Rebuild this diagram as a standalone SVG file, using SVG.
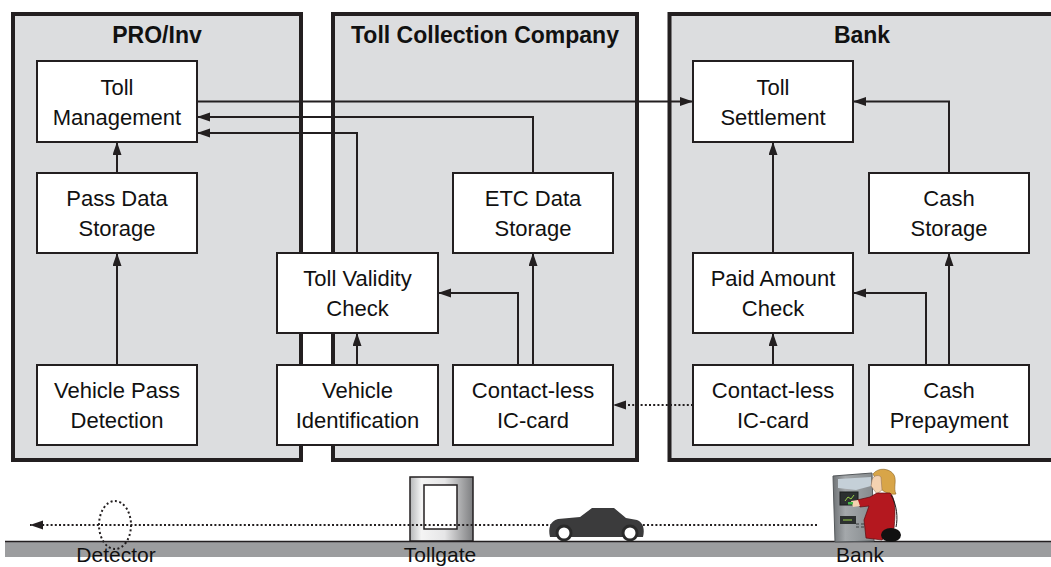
<svg xmlns="http://www.w3.org/2000/svg" width="1051" height="567" viewBox="0 0 1051 567">
  <defs>
    <style>
      .panel { fill: #dcdddf; stroke: #231f20; stroke-width: 4; }
      .box { fill: #ffffff; stroke: #231f20; stroke-width: 2; }
      .title { font-family: "Liberation Sans", Arial, sans-serif; font-size: 23px; font-weight: bold; fill: #111; text-anchor: middle; }
      .lbl { font-family: "Liberation Sans", Arial, sans-serif; font-size: 22px; fill: #111; text-anchor: middle; }
      .place { font-family: "Liberation Sans", Arial, sans-serif; font-size: 21px; fill: #111; text-anchor: middle; }
      .conn { fill: none; stroke: #231f20; stroke-width: 2; }
      .dot { fill: none; stroke: #231f20; stroke-width: 2; stroke-dasharray: 2 2.2; }
    </style>
    <marker id="arr" markerUnits="userSpaceOnUse" markerWidth="14" markerHeight="10" refX="13" refY="4.5" orient="auto">
      <path d="M0,0 L13,4.5 L0,9 z" fill="#231f20"/>
    </marker>
    <linearGradient id="gate" x1="0" y1="0" x2="1" y2="0">
      <stop offset="0" stop-color="#b5b6b8"/>
      <stop offset="0.18" stop-color="#f4f4f4"/>
      <stop offset="0.55" stop-color="#e6e6e7"/>
      <stop offset="1" stop-color="#7d7e80"/>
    </linearGradient>
    <linearGradient id="atm" x1="0" y1="0" x2="1" y2="0">
      <stop offset="0" stop-color="#6f7376"/>
      <stop offset="0.3" stop-color="#a4a8ab"/>
      <stop offset="1" stop-color="#858a8d"/>
    </linearGradient>
  </defs>

  <rect width="1051" height="567" fill="#ffffff"/>

  <!-- organisation panels -->
  <g id="panel-pro">
    <rect class="panel" x="13" y="14" width="288" height="446"/>
    <text class="title" x="157" y="43">PRO/Inv</text>
  </g>
  <g id="panel-tcc">
    <rect class="panel" x="333" y="14" width="304" height="446"/>
    <text class="title" x="485" y="43">Toll Collection Company</text>
  </g>
  <g id="panel-bank">
    <rect class="panel" x="669.5" y="14" width="400" height="446"/>
    <text class="title" x="862" y="43">Bank</text>
  </g>

  <!-- connectors -->
  <g id="connectors">
    <path class="conn" d="M197,101.5 H693" marker-end="url(#arr)"/>
    <path class="conn" d="M533,173 V117 H197" marker-end="url(#arr)"/>
    <path class="conn" d="M357,253 V133 H197" marker-end="url(#arr)"/>
    <path class="conn" d="M117,173 V142" marker-end="url(#arr)"/>
    <path class="conn" d="M117,365 V253" marker-end="url(#arr)"/>
    <path class="conn" d="M357,365 V333" marker-end="url(#arr)"/>
    <path class="conn" d="M518,365 V293 H438" marker-end="url(#arr)"/>
    <path class="conn" d="M533,365 V253" marker-end="url(#arr)"/>
    <path class="dot" d="M693,405 H613" stroke-width="1.5" marker-end="url(#arr)"/>
    <path class="conn" d="M773,365 V333" marker-end="url(#arr)"/>
    <path class="conn" d="M926,365 V293 H853" marker-end="url(#arr)"/>
    <path class="conn" d="M949,365 V253" marker-end="url(#arr)"/>
    <path class="conn" d="M773,253 V142" marker-end="url(#arr)"/>
    <path class="conn" d="M949,173 V101.5 H853" marker-end="url(#arr)"/>
  </g>

  <!-- PRO/Inv nodes -->
  <g id="toll-management">
    <rect class="box" x="37" y="61" width="160" height="81"/>
    <text class="lbl" x="117" y="94.5">Toll</text>
    <text class="lbl" x="117" y="124.5">Management</text>
  </g>
  <g id="pass-data-storage">
    <rect class="box" x="37" y="173" width="160" height="80"/>
    <text class="lbl" x="117" y="206">Pass Data</text>
    <text class="lbl" x="117" y="236">Storage</text>
  </g>
  <g id="vehicle-pass-detection">
    <rect class="box" x="37" y="365" width="160" height="80"/>
    <text class="lbl" x="117" y="398">Vehicle Pass</text>
    <text class="lbl" x="117" y="428">Detection</text>
  </g>

  <!-- Toll Collection Company nodes -->
  <g id="toll-validity-check">
    <rect class="box" x="277" y="253" width="161" height="80"/>
    <text class="lbl" x="357.5" y="286">Toll Validity</text>
    <text class="lbl" x="357.5" y="316">Check</text>
  </g>
  <g id="vehicle-identification">
    <rect class="box" x="277" y="365" width="161" height="80"/>
    <text class="lbl" x="357.5" y="398">Vehicle</text>
    <text class="lbl" x="357.5" y="428">Identification</text>
  </g>
  <g id="etc-data-storage">
    <rect class="box" x="453" y="173" width="160" height="80"/>
    <text class="lbl" x="533" y="206">ETC Data</text>
    <text class="lbl" x="533" y="236">Storage</text>
  </g>
  <g id="tcc-ic-card">
    <rect class="box" x="453" y="365" width="160" height="80"/>
    <text class="lbl" x="533" y="398">Contact-less</text>
    <text class="lbl" x="533" y="428">IC-card</text>
  </g>

  <!-- Bank nodes -->
  <g id="toll-settlement">
    <rect class="box" x="693" y="61" width="160" height="81"/>
    <text class="lbl" x="773" y="94.5">Toll</text>
    <text class="lbl" x="773" y="124.5">Settlement</text>
  </g>
  <g id="cash-storage">
    <rect class="box" x="869" y="173" width="160" height="80"/>
    <text class="lbl" x="949" y="206">Cash</text>
    <text class="lbl" x="949" y="236">Storage</text>
  </g>
  <g id="paid-amount-check">
    <rect class="box" x="693" y="253" width="160" height="80"/>
    <text class="lbl" x="773" y="286">Paid Amount</text>
    <text class="lbl" x="773" y="316">Check</text>
  </g>
  <g id="bank-ic-card">
    <rect class="box" x="693" y="365" width="160" height="80"/>
    <text class="lbl" x="773" y="398">Contact-less</text>
    <text class="lbl" x="773" y="428">IC-card</text>
  </g>
  <g id="cash-prepayment">
    <rect class="box" x="869" y="365" width="160" height="80"/>
    <text class="lbl" x="949" y="398">Cash</text>
    <text class="lbl" x="949" y="428">Prepayment</text>
  </g>

  <!-- road scene -->
  <g id="road">
    <rect x="5" y="541" width="1046" height="16" fill="#9c9d9f"/>
    <line x1="5" y1="541.5" x2="1051" y2="541.5" stroke="#231f20" stroke-width="1.5"/>
  </g>

  <g id="tollgate">
    <rect x="410" y="477" width="63" height="64" fill="url(#gate)" stroke="#231f20" stroke-width="1.5"/>
    <rect x="424" y="485" width="33" height="44" fill="#ffffff" stroke="#231f20" stroke-width="1.5"/>
  </g>

  <!-- vehicle path -->
  <path id="vehicle-path" class="dot" d="M817,525 H30" marker-end="url(#arr)"/>

  <g id="detector">
    <ellipse cx="115" cy="525" rx="16" ry="24" fill="none" stroke="#231f20" stroke-width="2" stroke-dasharray="2 2.5"/>
  </g>

  <g id="car">
    <path d="M550,537 C548,528 550,521 558,519 L580,517 L592,508 L614,508 L626,518 L637,520 C643,522 645,529 643,537 Z" fill="#3b3b3c"/>
    <circle cx="564" cy="533" r="8.5" fill="#2a2a2a"/>
    <circle cx="564" cy="533" r="5.5" fill="#ffffff"/>
    <circle cx="630" cy="533" r="8.5" fill="#2a2a2a"/>
    <circle cx="630" cy="533" r="5.5" fill="#ffffff"/>
  </g>

  <g id="atm-customer">
    <!-- cash machine -->
    <path d="M833,476 L872,473 L874,541 L835,542 Z" fill="url(#atm)" stroke="#55595c" stroke-width="1"/>
    <path d="M838,479 L871,477 L871,486 L856,490 L838,488 Z" fill="#c5d0d8"/>
    <rect x="840" y="492" width="18" height="13" fill="#2c3030" stroke="#1a1d1d"/>
    <path d="M845,501 L848,497 L851,499 L854,495" fill="none" stroke="#9bd24a" stroke-width="1"/>
    <rect x="840" y="516" width="16" height="8" fill="#2c3030"/>
    <path d="M843,520 H852" stroke="#9bd24a" stroke-width="1"/>
    <path d="M856,524 h3 m2,0 h3 m-8,3 h3 m2,0 h3" stroke="#3a3e40" stroke-width="1.2"/>
    <!-- customer -->
    <path d="M873,474 C878,467 890,468 894,475 C897,481 893,488 896,494 C890,495 884,492 881,489 Z" fill="#d8a548" stroke="#8a6320" stroke-width="0.6"/>
    <path d="M872,480 C873,476 878,474 881,477 L882,490 L877,494 L874,490 L871,486 Z" fill="#f4d2b1" stroke="#8a6a50" stroke-width="0.5"/>
    <path d="M877,493 L890,493 C895,497 896,510 894,528 L882,540 L866,538 L864,520 L869,506 L860,507 L857,500 L870,497 Z" fill="#b4181f" stroke="#5c0a0e" stroke-width="0.7"/>
    <path d="M851,501 L858,500 L860,506 L853,507 Z" fill="#f4d2b1"/>
    <rect x="848" y="502" width="5" height="2.5" fill="#47b84a"/>
    <path d="M891,495 C897,505 898,518 896,527" fill="none" stroke="#1a1a1a" stroke-width="1"/>
    <ellipse cx="891" cy="535" rx="10" ry="7" fill="#111111"/>
  </g>

  <!-- place labels -->
  <g id="place-labels">
    <text class="place" x="116" y="562">Detector</text>
    <text class="place" x="440" y="562">Tollgate</text>
    <text class="place" x="860" y="562">Bank</text>
  </g>
</svg>
